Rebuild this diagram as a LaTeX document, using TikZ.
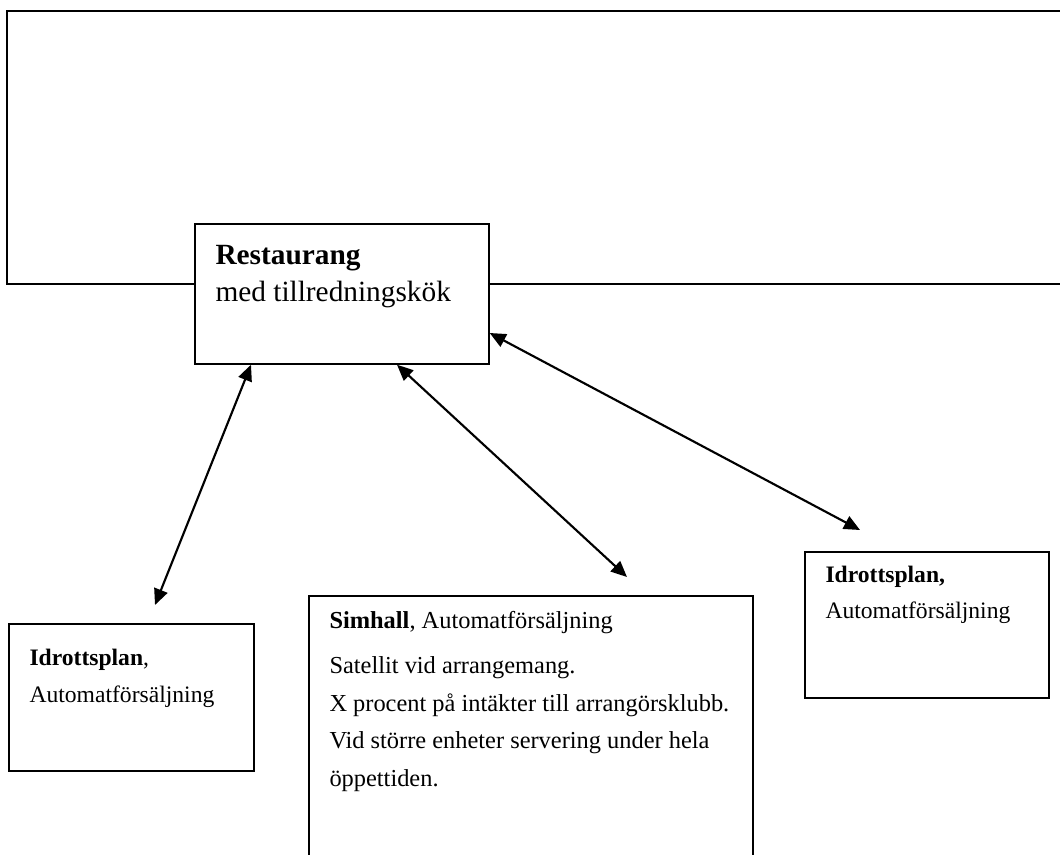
\documentclass[tikz,border=0pt]{standalone}
\usepackage{fontspec}
\setmainfont{Liberation Serif}
\usetikzlibrary{arrows.meta,calc}

\tikzset{every picture/.style={line width=0.75pt}}
\tikzset{
  box/.style={draw, fill=white, line width=1.3pt, inner sep=0pt, anchor=north west},
  link/.style={line width=1.6pt, {Triangle[length=12pt,width=10.5pt]}-{Triangle[length=12pt,width=10.5pt]}},
  txt/.style={anchor=base west, inner sep=0pt, font=\fontsize{17.7}{21}\selectfont},
  midtxt/.style={txt, font=\fontsize{18.3}{22}\selectfont},
  bigtxt/.style={txt, font=\fontsize{22}{26}\selectfont},
}

\begin{document}
\begin{tikzpicture}[x=0.75pt,y=0.75pt,yscale=-1,xscale=1]
\clip (0,0) rectangle (1060,854);

%Shape: Frame (open to the right)
\draw [line width=1.3pt] (1075,11) -- (7,11) -- (7,284) -- (1075,284) ;

%Shape: Rectangle
\node [box, minimum width=220.5pt, minimum height=105pt] (rest) at (194,223) {};
%Shape: Rectangle
\node [box, minimum width=183.75pt, minimum height=110.25pt] (idr1) at (8,623) {};
%Shape: Rectangle
\node [box, minimum width=333pt, minimum height=240pt] (sim) at (308,595) {};
%Shape: Rectangle
\node [box, minimum width=183pt, minimum height=109.5pt] (idr2) at (804,551) {};

% Text Node
\node [bigtxt] (rest1) at (215,264) {\textbf{Restaurang}};
% Text Node
\node [bigtxt] (rest2) at (215,301) {med tillredningskök};

% Text Node
\node [txt] (idr1a) at (29,665) {\textbf{Idrottsplan},};
% Text Node
\node [txt] (idr1b) at (29,702) {Automatförsäljning};

% Text Node
\node [midtxt] (sima) at (329,628) {\textbf{Simhall}, Automatförsäljning};
% Text Node
\node [midtxt] (simb) at (329,673) {Satellit vid arrangemang.};
% Text Node
\node [midtxt] (simc) at (329,711) {X procent på intäkter till arrangörsklubb.};
% Text Node
\node [midtxt] (simd) at (329,748) {Vid större enheter servering under hela};
% Text Node
\node [midtxt] (sime) at (329,786) {öppettiden.};

% Text Node
\node [txt] (idr2a) at (825,582) {\textbf{Idrottsplan,}};
% Text Node
\node [txt] (idr2b) at (825,618) {Automatförsäljning};

%Straight Lines
\coordinate (e1) at (155,605);
\coordinate (e2) at (627,577);
\coordinate (e3) at (860,530);
\draw [link] ($(rest.south west)+(57,0)$) -- (e1) ;
\draw [link] ($(rest.south west)+(203,0)$) -- (e2) ;
\draw [link] ($(rest.north east)+(0,110)$) -- (e3) ;

\end{tikzpicture}
\end{document}
